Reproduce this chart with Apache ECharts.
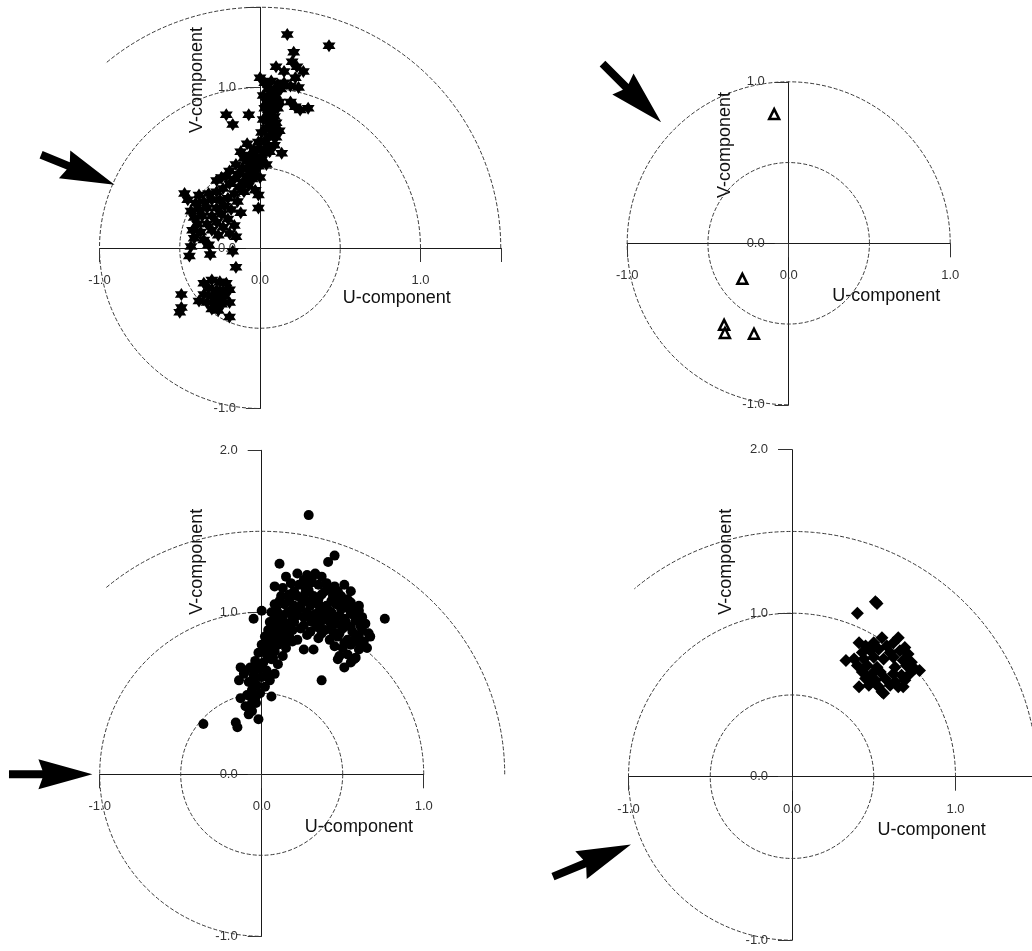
<!DOCTYPE html>
<html><head><meta charset="utf-8">
<script src="https://cdn.jsdelivr.net/npm/echarts@6/dist/echarts.min.js"></script>
<style>html,body{margin:0;padding:0;background:#fff}#c{width:1032px;height:951px}</style>
</head><body><div id="c"></div>
<script>
// ---------- text ----------
const uLabel = 'U-component';
const vLabel = 'V-component';

// ---------- data (U, V) ----------
const starData = [
 [0.17,1.33],[0.43,1.26],[0.21,1.22],[0.20,1.16],[0.23,1.13],[0.27,1.10],[0.10,1.13],[0.15,1.10],[0.22,1.06],[0.0,1.06],
 [0.03,1.03],[0.07,1.04],[0.11,1.02],[0.15,1.03],[0.19,1.01],[0.24,1.00],[0.05,0.99],[0.09,0.98],[0.13,0.99],
 [0.02,0.95],[0.06,0.94],[0.10,0.95],[0.04,0.91],[0.08,0.90],[0.12,0.91],[0.03,0.87],[0.07,0.86],[0.11,0.87],[0.05,0.83],[0.09,0.82],
 [0.02,0.80],[0.06,0.79],[0.10,0.78],[0.04,0.75],[0.08,0.74],[0.12,0.73],[0.01,0.72],[0.06,0.70],[0.10,0.69],
 [0.19,0.91],[0.22,0.88],[0.25,0.86],[0.30,0.87],
 [-0.21,0.83],[-0.17,0.77],[-0.07,0.83],
 [0.135,0.59],[0.08,0.70],
 [0.03,0.67],[-0.01,0.66],[0.05,0.63],[0.0,0.62],[-0.04,0.61],[0.03,0.59],[-0.02,0.57],[-0.06,0.58],[0.01,0.55],[-0.04,0.53],
 [-0.08,0.54],[-0.01,0.51],[-0.06,0.49],[-0.11,0.50],[-0.03,0.47],[-0.08,0.45],[-0.13,0.46],[-0.05,0.43],[-0.10,0.41],[-0.16,0.43],
 [-0.07,0.39],[-0.13,0.38],[-0.19,0.40],[-0.10,0.35],[-0.16,0.34],[-0.23,0.37],[-0.03,0.36],
 [-0.15,0.52],[-0.19,0.48],[-0.24,0.44],[-0.27,0.42],[-0.21,0.45],[-0.10,0.56],[0.06,0.60],[0.09,0.64],[-0.12,0.60],[0.0,0.44],
 [0.04,0.52],[-0.08,0.65],
 [-0.27,0.35],[-0.32,0.34],[-0.38,0.33],[-0.45,0.30],[-0.47,0.34],[-0.20,0.31],[-0.25,0.30],[-0.30,0.30],[-0.35,0.29],[-0.40,0.28],
 [-0.14,0.29],[-0.22,0.26],[-0.27,0.25],[-0.33,0.25],[-0.38,0.24],[-0.43,0.23],[-0.18,0.24],[-0.12,0.22],[-0.24,0.21],[-0.30,0.20],
 [-0.36,0.20],[-0.41,0.19],[-0.20,0.18],[-0.27,0.16],[-0.33,0.15],[-0.39,0.15],[-0.16,0.14],[-0.23,0.13],[-0.30,0.11],[-0.37,0.10],
 [-0.42,0.11],[-0.19,0.09],[-0.26,0.08],[-0.41,0.06],[-0.35,0.05],[-0.15,0.07],
 [-0.01,0.33],[-0.01,0.25],[-0.44,-0.05],[-0.31,-0.04],[-0.17,-0.02],[-0.15,-0.12],[-0.43,0.01],[-0.32,0.02],
 [-0.35,-0.22],[-0.30,-0.20],[-0.25,-0.21],[-0.21,-0.22],[-0.32,-0.25],[-0.27,-0.26],[-0.23,-0.27],[-0.19,-0.26],[-0.35,-0.29],
 [-0.30,-0.30],[-0.26,-0.31],[-0.22,-0.30],[-0.38,-0.33],[-0.33,-0.34],[-0.28,-0.35],[-0.24,-0.35],[-0.19,-0.34],[-0.30,-0.38],
 [-0.26,-0.39],[-0.19,-0.43],[-0.49,-0.29],[-0.49,-0.37],[-0.50,-0.40]
];
const triangleData = [[-0.09,0.80],[-0.287,-0.22],[-0.40,-0.505],[-0.395,-0.555],[-0.215,-0.56]];
const dotData = [
 [0.29,1.60],[0.45,1.35],[0.41,1.31],[0.11,1.30],[0.15,1.22],[0.08,1.16],[0.51,1.17],[0.55,1.13],[0.76,0.96],[0.0,1.01],[-0.05,0.96],
 [0.37,0.58],[0.26,0.77],[0.32,0.77],
 [0.22,1.24],[0.28,1.23],[0.33,1.24],[0.37,1.22],[0.26,1.20],[0.31,1.21],
 [0.18,1.18],[0.23,1.17],[0.30,1.18],[0.35,1.17],[0.40,1.18],[0.45,1.16],[0.13,1.15],[0.42,1.14],[0.27,1.15],
 [0.20,1.13],[0.29,1.135],[0.39,1.13],[0.47,1.13],
 [0.12,1.10],[0.17,1.11],[0.22,1.10],[0.27,1.12],[0.32,1.10],[0.37,1.11],[0.44,1.10],[0.49,1.10],[0.53,1.08],[0.25,1.08],[0.35,1.08],
 [0.11,1.07],[0.17,1.075],[0.28,1.07],[0.33,1.075],[0.43,1.07],[0.48,1.07],[0.55,1.06],
 [0.08,1.05],[0.14,1.05],[0.20,1.04],[0.25,1.06],[0.30,1.04],[0.35,1.05],[0.40,1.04],[0.46,1.05],[0.51,1.03],[0.57,1.03],[0.60,1.04],
 [0.09,1.02],[0.19,1.02],[0.24,1.025],[0.36,1.02],[0.41,1.015],[0.49,1.02],[0.54,1.02],[0.60,1.01],
 [0.06,1.00],[0.11,0.99],[0.16,1.00],[0.22,0.98],[0.28,1.00],[0.33,0.99],[0.38,0.98],[0.43,1.00],[0.48,0.98],[0.55,0.99],[0.62,0.97],
 [0.08,0.97],[0.13,0.97],[0.19,0.965],[0.26,0.97],[0.30,0.965],[0.35,0.96],[0.45,0.965],[0.51,0.96],[0.59,0.97],
 [0.05,0.94],[0.10,0.95],[0.15,0.93],[0.20,0.94],[0.31,0.94],[0.36,0.93],[0.41,0.95],[0.46,0.93],[0.52,0.94],[0.58,0.95],[0.64,0.93],
 [0.07,0.92],[0.12,0.915],[0.17,0.91],[0.26,0.92],[0.34,0.91],[0.43,0.915],[0.49,0.92],[0.55,0.91],[0.61,0.915],
 [0.04,0.89],[0.09,0.90],[0.13,0.88],[0.19,0.89],[0.24,0.90],[0.30,0.88],[0.39,0.89],[0.44,0.88],[0.50,0.90],[0.56,0.88],[0.62,0.89],[0.66,0.87],[0.67,0.85],
 [0.06,0.87],[0.10,0.86],[0.15,0.865],[0.28,0.86],[0.37,0.87],[0.48,0.87],[0.60,0.86],
 [0.02,0.85],[0.07,0.84],[0.12,0.83],[0.17,0.85],[0.22,0.83],[0.35,0.84],[0.42,0.83],[0.47,0.85],[0.53,0.83],[0.58,0.84],[0.63,0.82],
 [0.04,0.82],[0.09,0.815],[0.14,0.81],[0.19,0.82],[0.51,0.81],[0.56,0.815],[0.61,0.80],
 [0.0,0.80],[0.05,0.79],[0.10,0.80],[0.15,0.78],[0.45,0.79],[0.50,0.78],[0.55,0.80],[0.60,0.77],[0.65,0.78],
 [-0.02,0.75],[0.03,0.74],[0.08,0.76],[0.13,0.73],[0.48,0.73],[0.53,0.74],[0.58,0.72],
 [0.47,0.71],[0.55,0.69],[0.57,0.71],[0.51,0.66],
 [0.02,0.77],[0.07,0.72],[-0.01,0.67],[0.04,0.61],[-0.05,0.58],[-0.11,0.62],[-0.07,0.48],
 [-0.04,0.70],[0.01,0.69],[0.06,0.71],[0.10,0.68],[-0.07,0.66],[-0.02,0.65],[0.03,0.64],[0.08,0.62],[-0.13,0.66],[-0.10,0.64],
 [-0.05,0.61],[0.0,0.60],[0.05,0.58],[-0.14,0.58],[-0.08,0.57],[-0.03,0.55],[0.02,0.54],[-0.06,0.52],[-0.01,0.50],[-0.09,0.49],
 [-0.04,0.47],[0.06,0.48],[-0.13,0.47],[-0.06,0.44],[-0.10,0.42],[-0.035,0.44],[-0.06,0.39],[-0.08,0.37],[-0.02,0.34],
 [-0.16,0.32],[-0.15,0.29],[-0.36,0.31]
];
const diamondData = [
 [0.51,1.07],[0.52,1.06],[0.40,1.00],
 [0.41,0.82],[0.55,0.85],[0.65,0.85],[0.69,0.79],[0.33,0.71],[0.78,0.65],[0.41,0.55],[0.56,0.51],[0.68,0.55],
 [0.45,0.80],[0.50,0.82],[0.58,0.80],[0.62,0.82],[0.43,0.76],[0.48,0.77],[0.53,0.78],[0.60,0.76],[0.66,0.77],[0.71,0.75],
 [0.38,0.72],[0.44,0.72],[0.50,0.73],[0.56,0.72],[0.62,0.73],[0.68,0.71],[0.73,0.70],
 [0.40,0.68],[0.46,0.68],[0.52,0.67],[0.63,0.67],[0.70,0.68],[0.75,0.66],
 [0.43,0.64],[0.49,0.63],[0.54,0.64],[0.62,0.63],[0.67,0.62],[0.72,0.63],
 [0.45,0.60],[0.51,0.59],[0.57,0.60],[0.63,0.58],[0.69,0.59],
 [0.47,0.56],[0.53,0.55],[0.60,0.56],[0.65,0.55],[0.55,0.52]
];

// reference circles: [radius, start angle deg, end angle deg] (counter-clockwise from +U)
const ringsTopLeft = [[0.5,0,360],[1.0,0,270],[1.5,0,130]];
const ringsTopRight = [[0.5,0,360],[1.0,0,270]];
const ringsBottomLeft = [[0.5,0,360],[1.0,0,270],[1.5,0,130]];
const ringsBottomRight = [[0.5,0,360],[1.0,0,270],[1.5,-5,130]];

// arrows: [tailU, tailV, tipU, tipV]
const arrowTopLeft = [[-1.364,0.581,-0.906,0.394]];
const arrowTopRight = [[-1.153,1.113,-0.79,0.75]];
const arrowBottomLeft = [[-1.56,0.0,-1.045,0.0]];
const arrowBottomRight = [[-1.462,-0.611,-0.985,-0.415]];

// ---------- layout ----------
const panels = [
 {grid:{left:99.5,top:7.25,width:401.25,height:401.25}, x:[-1,1.5], y:[-1,1.5],
  data:starData, rings:ringsTopLeft, arrow:arrowTopLeft, vPos:[-0.39,1.047], uPos:[0.852,-0.313], mark:'star'},
 {grid:{left:627.2,top:81.8,width:323,height:323}, x:[-1,1], y:[-1,1],
  data:triangleData, rings:ringsTopRight, arrow:arrowTopRight, vPos:[-0.394,0.609], uPos:[0.604,-0.326], mark:'tri'},
 {grid:{left:99.7,top:450.3,width:324,height:486}, x:[-1,1], y:[-1,2],
  data:dotData, rings:ringsBottomLeft, arrow:arrowBottomLeft, vPos:[-0.40,1.312], uPos:[0.60,-0.323], mark:'dot'},
 {grid:{left:628.5,top:449.7,width:408.75,height:490.5}, x:[-1,1.5], y:[-1,2],
  data:diamondData, rings:ringsBottomRight, arrow:arrowBottomRight, vPos:[-0.404,1.315], uPos:[0.854,-0.326], mark:'dia'}
];

const FONT = 'Liberation Sans, Arial, sans-serif';
const hexagram = 'path://M0,-10L2.89,-5L8.66,-5L5.77,0L8.66,5L2.89,5L0,10L-2.89,5L-8.66,5L-5.77,0L-8.66,-5L-2.89,-5Z';

function fmt(v){ return Number.isInteger(v) ? v.toFixed(1) : ''; }

function renderRing(params, api){
  const c = api.coord([0,0]);
  const r = api.size([api.value(0),0])[0];
  const a0 = api.value(1), a1 = api.value(2);
  return {type:'arc', shape:{cx:c[0], cy:c[1], r:r, startAngle:-a0*Math.PI/180, endAngle:-a1*Math.PI/180, clockwise:false},
    style:{fill:'none', stroke:'#3a3a3a', lineWidth:1, lineDash:[4,2]}};
}
function renderArrow(params, api){
  const tail = api.coord([api.value(0), api.value(1)]);
  const tip = api.coord([api.value(2), api.value(3)]);
  const dx = tip[0]-tail[0], dy = tip[1]-tail[1];
  const L = Math.hypot(dx,dy), ux = dx/L, uy = dy/L, nx = -uy, ny = ux;
  const hl = 50, hw = 15, sw = 4;
  const bx = tip[0]-ux*hl, by = tip[1]-uy*hl;
  const pts = [
    [tail[0]+nx*sw, tail[1]+ny*sw],[bx+nx*sw, by+ny*sw],[bx+nx*hw-ux*4, by+ny*hw-uy*4],tip,
    [bx-nx*hw-ux*4, by-ny*hw-uy*4],[bx-nx*sw, by-ny*sw],[tail[0]-nx*sw, tail[1]-ny*sw]];
  return {type:'polygon', shape:{points:pts}, style:{fill:'#000'}};
}

const grids = [], xAxes = [], yAxes = [], series = [];
panels.forEach((p,i)=>{
  grids.push(Object.assign({containLabel:false, outerBoundsMode:'none'}, p.grid));
  const common = {gridIndex:i, type:'value', interval:1, splitLine:{show:false},
    axisLine:{onZero:false, lineStyle:{color:'#1a1a1a', width:1}},
    axisTick:{length:14, lineStyle:{color:'#333', width:1}},
    axisLabel:{formatter:fmt, fontSize:13, color:'#333', fontFamily:FONT}};
  // place the axes through the origin
  const xOff = -p.grid.height * (0 - p.y[0]) / (p.y[1] - p.y[0]);
  const yOff = -p.grid.width * (0 - p.x[0]) / (p.x[1] - p.x[0]);
  xAxes.push(Object.assign({}, common, {min:p.x[0], max:p.x[1], position:'bottom', offset:xOff,
    axisLabel:Object.assign({}, common.axisLabel, {margin:26})}));
  yAxes.push(Object.assign({}, common, {min:p.y[0], max:p.y[1], position:'left', offset:yOff,
    axisLabel:Object.assign({}, common.axisLabel, {margin:24})}));
  series.push({type:'custom', xAxisIndex:i, yAxisIndex:i, data:p.rings, renderItem:renderRing, z:1, silent:true});
  let s = {type:'scatter', xAxisIndex:i, yAxisIndex:i, data:p.data, z:3, silent:true};
  if(p.mark==='star') Object.assign(s,{symbol:hexagram, symbolSize:13, itemStyle:{color:'#000', opacity:1}});
  if(p.mark==='tri') Object.assign(s,{symbol:'triangle', symbolSize:10, itemStyle:{color:'#fff', borderColor:'#000', borderWidth:2.5, opacity:1}});
  if(p.mark==='dot') Object.assign(s,{symbol:'circle', symbolSize:10, itemStyle:{color:'#000', opacity:1}});
  if(p.mark==='dia') Object.assign(s,{symbol:'diamond', symbolSize:13, itemStyle:{color:'#000', opacity:1}});
  series.push(s);
  series.push({type:'custom', xAxisIndex:i, yAxisIndex:i, data:p.arrow, renderItem:renderArrow, z:4, silent:true});
});

const chart = echarts.init(document.getElementById('c'), null, {renderer:'canvas'});
chart.setOption({animation:false, backgroundColor:'#fff', grid:grids, xAxis:xAxes, yAxis:yAxes, series:series});

const graphics = [];
panels.forEach((p,i)=>{
  const v = chart.convertToPixel({gridIndex:i}, p.vPos);
  const u = chart.convertToPixel({gridIndex:i}, p.uPos);
  graphics.push({type:'text', x:v[0], y:v[1], rotation:Math.PI/2, z:10,
    style:{text:vLabel, font:'18px '+FONT, fill:'#111', align:'center', verticalAlign:'middle'}});
  graphics.push({type:'text', x:u[0], y:u[1], z:10,
    style:{text:uLabel, font:'18px '+FONT, fill:'#111', align:'center', verticalAlign:'middle'}});
});
chart.setOption({graphic:graphics});
</script></body></html>
